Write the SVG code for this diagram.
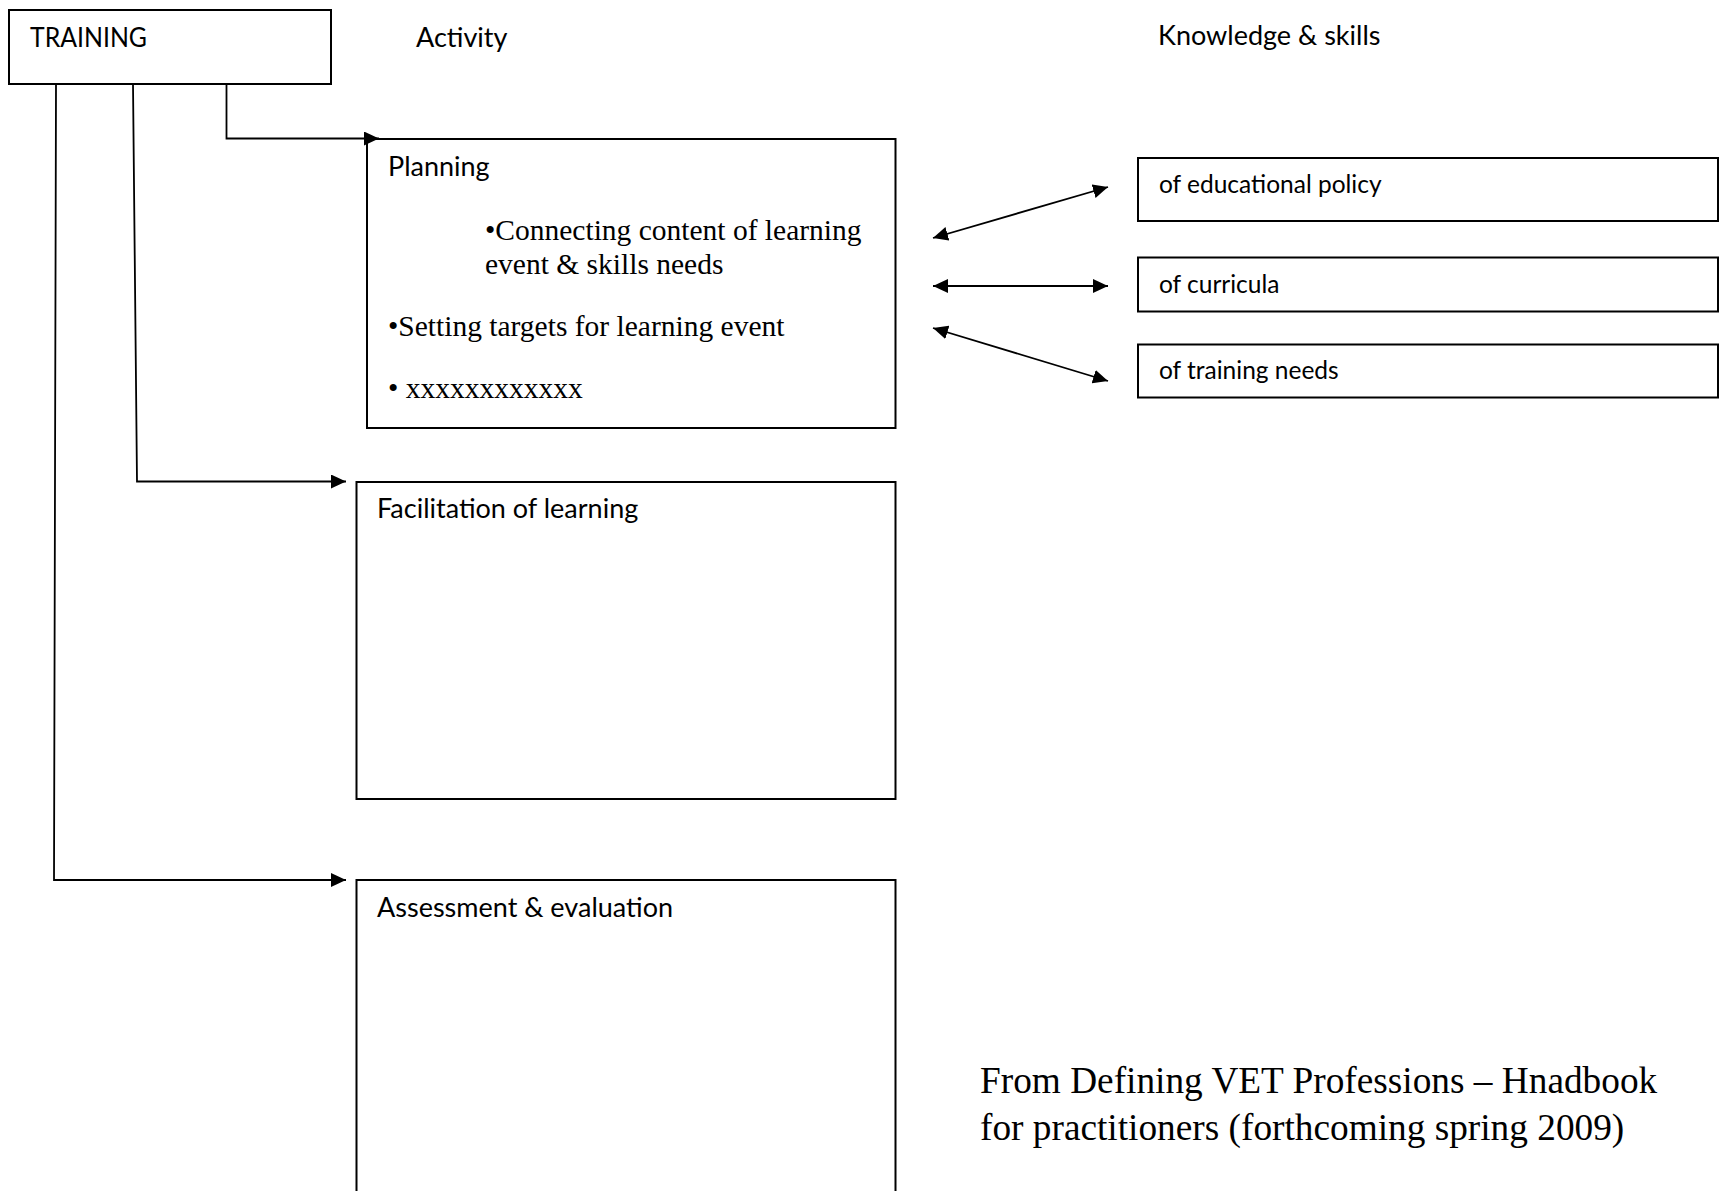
<svg xmlns="http://www.w3.org/2000/svg" width="1725" height="1191" viewBox="0 0 1725 1191">
<style>
.box{fill:#fff;stroke:#000;stroke-width:2}
.conn{fill:none;stroke:#000;stroke-width:1.8}
.sans{font-family:Lato,"Open Sans",sans-serif;font-size:27px;fill:#000}
.ksans{font-family:Lato,"Open Sans",sans-serif;font-size:24.5px;fill:#000}
.serif{font-family:"Liberation Serif","Times New Roman",serif;font-size:29.5px;fill:#000}
.foot{font-family:"Liberation Serif","Times New Roman",serif;font-size:37.3px;fill:#000}
</style>
<defs>
<marker id="ah" markerUnits="userSpaceOnUse" markerWidth="15" markerHeight="14" refX="15" refY="7" orient="auto-start-reverse">
<path d="M0,0 L15,7 L0,14 z" fill="#000"/>
</marker>
</defs>
<rect width="1725" height="1191" fill="#fff"/>
<g id="training">
<rect class="box" x="9" y="10" width="322" height="74"/>
<text class="sans" x="30" y="47" textLength="117" lengthAdjust="spacingAndGlyphs">TRAINING</text>
</g>
<g id="headers">
<text class="sans" x="416" y="47">Activity</text>
<text class="sans" x="1158" y="45">Knowledge &amp; skills</text>
</g>
<g id="planning">
<rect class="box" x="367" y="139" width="528.5" height="289"/>
<text class="sans" x="388" y="176">Planning</text>
<text class="serif" x="485" y="240">•Connecting content of learning</text>
<text class="serif" x="485" y="274">event &amp; skills needs</text>
<text class="serif" x="388" y="336">•Setting targets for learning event</text>
<text class="serif" x="388" y="398">• xxxxxxxxxxxx</text>
</g>
<g id="facilitation">
<rect class="box" x="356.5" y="482" width="539" height="317"/>
<text class="sans" x="377" y="518">Facilitation of learning</text>
</g>
<g id="assessment">
<rect class="box" x="356.5" y="880" width="539" height="330"/>
<text class="sans" x="377" y="917">Assessment &amp; evaluation</text>
</g>
<g id="k-policy">
<rect class="box" x="1138" y="158" width="580" height="63"/>
<text class="ksans" x="1159" y="193">of educational policy</text>
</g>
<g id="k-curricula">
<rect class="box" x="1138" y="257.5" width="580" height="54"/>
<text class="ksans" x="1159" y="293">of curricula</text>
</g>
<g id="k-needs">
<rect class="box" x="1138" y="344.5" width="580" height="53"/>
<text class="ksans" x="1159" y="379">of training needs</text>
</g>
<g id="connectors">
<path class="conn" d="M226.5,84 V138.5 H379" marker-end="url(#ah)"/>
<path class="conn" d="M133,84 L137,481.5 H346" marker-end="url(#ah)"/>
<path class="conn" d="M56,84 L54,880 H346" marker-end="url(#ah)"/>
<line class="conn" x1="933" y1="238" x2="1108" y2="187" marker-start="url(#ah)" marker-end="url(#ah)"/>
<line class="conn" x1="933" y1="286" x2="1108" y2="286" marker-start="url(#ah)" marker-end="url(#ah)"/>
<line class="conn" x1="933" y1="328" x2="1108" y2="381" marker-start="url(#ah)" marker-end="url(#ah)"/>
</g>
<g id="footer">
<text class="foot" x="980" y="1093">From Defining VET Professions – Hnadbook</text>
<text class="foot" x="980" y="1140">for practitioners (forthcoming spring 2009)</text>
</g>
</svg>
